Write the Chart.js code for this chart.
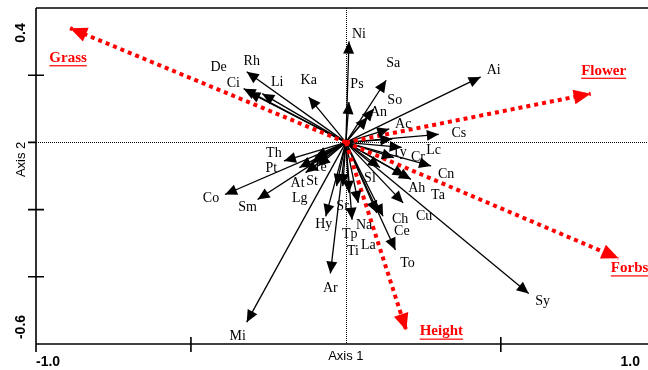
<!DOCTYPE html>
<html>
<head>
<meta charset="utf-8">
<script src="https://cdn.jsdelivr.net/npm/chart.js@4/dist/chart.umd.min.js"></script>
<style>
  html, body { margin: 0; padding: 0; background: #fff; overflow: hidden; }
  #wrap { width: 648px; height: 370px; position: relative; }
</style>
</head>
<body>
<div id="wrap"><canvas id="biplot"></canvas></div>
<script>
// Species scores (Axis 1, Axis 2)
const species = ['Ni','Ps','Sa','So','An','Ac','Ai','Cs','Ty','Lc','Cr','Cn','Ah','Ta','Sl',
                 'Cu','Ch','Ce','To','Sy','Na','La','Tp','Ti','Sr','Hy','Ar','Mi','Co','Sm',
                 'Lg','At','St','Te','Pt','Th','Rh','De','Ci','Li','Ka'];
const speciesAxis1 = [0.01, 0.01, 0.13, 0.09, 0.07, 0.14, 0.435, 0.30, 0.15, 0.18, 0.155, 0.275, 0.19, 0.21, 0.11,
                      0.185, 0.12, 0.10, 0.16, 0.59, 0.02, 0.04, -0.01, 0.01, -0.03, -0.065, -0.05, -0.32, -0.39, -0.285,
                      -0.11, -0.13, -0.09, -0.10, -0.15, -0.20, -0.32, -0.33, -0.315, -0.27, -0.12];
const speciesAxis2 = [0.30, 0.12, 0.185, 0.10, 0.075, 0.04, 0.195, 0.024, 0.01, -0.015, -0.045, -0.07, -0.10, -0.11, -0.075,
                      -0.18, -0.22, -0.21, -0.32, -0.45, -0.23, -0.18, -0.13, -0.15, -0.13, -0.22, -0.39, -0.535, -0.155, -0.17,
                      -0.06, -0.09, -0.07, -0.045, -0.075, -0.055, 0.21, 0.16, 0.15, 0.145, 0.135];

// Trait vectors
const traits = ['Grass', 'Flower', 'Forbs', 'Height'];
const traitAxis1 = [-0.89, 0.79, 0.88, 0.195];
const traitAxis2 = [0.34, 0.145, -0.345, -0.56];

// Axis ticks and labels
const xTickValues = [-1.0, -0.5, 0.5];
const yTickValues = [0.2, -0.2, -0.4];
const xEndLabels = ['-1.0', '1.0'];
const yEndLabels = ['0.4', '-0.6'];
const xTitle = 'Axis 1';
const yTitle = 'Axis 2';

// Label placement (pixel offsets from arrow tips)
const speciesLabelOffset = {
  Ni:[10,-7], Ps:[8,-18], Sa:[7,-17], So:[21,-8], An:[11,-5], Ac:[14,-5], Ai:[13,-7], Cs:[20,-1],
  Ty:[7,13], Lc:[32,3], Cr:[24,0], Cn:[15,8], Ah:[12,12], Ta:[27,16], Sl:[-10,11], Cu:[21,13],
  Ch:[17,3], Ce:[25,18], To:[12,13], Sy:[14,8], Na:[12,6], La:[10,42], Tp:[7,48], Ti:[4,59],
  Sr:[6,20], Hy:[-2,8], Ar:[0,15], Mi:[-9,14], Co:[-14,4], Sm:[-10,8], Lg:[-12,36], At:[-8,11],
  St:[-6,15], Te:[5,10], Pt:[-28,1], Th:[-10,-8], Rh:[5,-11], De:[-25,-21], Ci:[-15,-9], Li:[15,-11], Ka:[0,-17]
};
const traitLabelOffset = { Grass:[-2,30], Flower:[13,-23], Forbs:[11,10], Height:[35,1] };

const RED = '#ff0000';

const datasets = [];
traits.forEach((name, i) => {
  datasets.push({
    label: name, kind: 'trait',
    data: [{x: 0, y: 0}, {x: traitAxis1[i], y: traitAxis2[i]}],
    showLine: true, borderColor: RED, borderWidth: 4, borderDash: [4, 4],
    borderCapStyle: 'butt', pointRadius: 0, order: 1
  });
});
species.forEach((name, i) => {
  datasets.push({
    label: name, kind: 'species',
    data: [{x: 0, y: 0}, {x: speciesAxis1[i], y: speciesAxis2[i]}],
    showLine: true, borderColor: '#000', borderWidth: 1.3,
    pointRadius: 0, order: 2
  });
});

function arrowHead(ctx, x0, y0, x1, y1, len, half, color) {
  const a = Math.atan2(y1 - y0, x1 - x0);
  const c = Math.cos(a), s = Math.sin(a);
  const bx = x1 - len * c, by = y1 - len * s;
  ctx.beginPath();
  ctx.moveTo(x1, y1);
  ctx.lineTo(bx - half * s, by + half * c);
  ctx.lineTo(bx + half * s, by - half * c);
  ctx.closePath();
  ctx.fillStyle = color;
  ctx.fill();
}

const biplotPlugin = {
  id: 'biplot',
  beforeDatasetsDraw(chart) {
    const {ctx, chartArea: ca, scales: {x, y}} = chart;
    const x0 = x.getPixelForValue(0), y0 = y.getPixelForValue(0);
    ctx.save();
    ctx.strokeStyle = '#000';
    ctx.lineWidth = 1;
    ctx.setLineDash([1, 1]);
    ctx.beginPath();
    ctx.moveTo(ca.left, Math.round(y0) + 0.5);
    ctx.lineTo(ca.right, Math.round(y0) + 0.5);
    ctx.moveTo(Math.round(x0) + 0.5, ca.top);
    ctx.lineTo(Math.round(x0) + 0.5, ca.bottom);
    ctx.stroke();
    ctx.restore();
  },
  afterDatasetsDraw(chart) {
    const {ctx} = chart;
    ctx.save();
    // arrowheads: species first, trait vectors on top
    ['species', 'trait'].forEach(kind => {
      chart.data.datasets.forEach((ds, i) => {
        if (ds.kind !== kind) return;
        const pts = chart.getDatasetMeta(i).data;
        const p0 = pts[0], p1 = pts[1];
        if (kind === 'species') arrowHead(ctx, p0.x, p0.y, p1.x, p1.y, 12, 5.5, '#000');
        else arrowHead(ctx, p0.x, p0.y, p1.x, p1.y, 17, 7.5, RED);
      });
    });
    // labels
    ctx.textAlign = 'center';
    ctx.textBaseline = 'middle';
    chart.data.datasets.forEach((ds, i) => {
      const p1 = chart.getDatasetMeta(i).data[1];
      if (ds.kind === 'species') {
        const o = speciesLabelOffset[ds.label];
        ctx.font = '14px "Liberation Serif", "Times New Roman", serif';
        ctx.fillStyle = '#000';
        ctx.fillText(ds.label, p1.x + o[0], p1.y + o[1]);
      } else {
        const o = traitLabelOffset[ds.label];
        ctx.font = 'bold 15px "Liberation Serif", "Times New Roman", serif';
        ctx.fillStyle = RED;
        const tx = p1.x + o[0], ty = p1.y + o[1];
        ctx.fillText(ds.label, tx, ty);
        const w = ctx.measureText(ds.label).width;
        ctx.fillRect(tx - w / 2, ty + 7, w, 1.2);
      }
    });
    ctx.restore();
  },
  afterDraw(chart) {
    const {ctx, chartArea: ca, scales: {x, y}} = chart;
    ctx.save();
    ctx.strokeStyle = '#000';
    ctx.lineWidth = 1.6;
    ctx.beginPath();
    // frame: top border, left and bottom axes
    ctx.moveTo(ca.left, ca.top);
    ctx.lineTo(chart.width, ca.top);
    ctx.moveTo(ca.left, ca.top);
    ctx.lineTo(ca.left, ca.bottom + 8);
    ctx.moveTo(ca.left, ca.bottom);
    ctx.lineTo(chart.width, ca.bottom);
    // ticks crossing the axes
    yTickValues.forEach(v => {
      const py = y.getPixelForValue(v);
      ctx.moveTo(ca.left - 8, py);
      ctx.lineTo(ca.left + 8, py);
    });
    ctx.moveTo(ca.left - 8, y.getPixelForValue(0));
    ctx.lineTo(ca.left, y.getPixelForValue(0));
    xTickValues.forEach(v => {
      const px = x.getPixelForValue(v);
      ctx.moveTo(px, ca.bottom - 7);
      ctx.lineTo(px, ca.bottom + 8);
    });
    ctx.stroke();

    // axis end labels and titles
    ctx.fillStyle = '#000';
    ctx.textBaseline = 'middle';
    ctx.font = 'bold 14px "Liberation Sans", Arial, sans-serif';
    ctx.textAlign = 'left';
    ctx.fillText(xEndLabels[0], ca.left, 362);
    ctx.textAlign = 'right';
    ctx.fillText(xEndLabels[1], chart.width - 8, 362);
    ctx.textAlign = 'center';
    ctx.font = '13px "Liberation Sans", Arial, sans-serif';
    ctx.fillText(xTitle, x.getPixelForValue(0), 356);

    const ly = 21;
    [[yEndLabels[0], ca.top + 25, 'bold 14px'], [yEndLabels[1], ca.bottom - 17, 'bold 14px'],
     [yTitle, y.getPixelForValue(0) + 17, '13px']].forEach(([t, py, f]) => {
      ctx.save();
      ctx.translate(ly, py);
      ctx.rotate(-Math.PI / 2);
      ctx.font = f + ' "Liberation Sans", Arial, sans-serif';
      ctx.textAlign = 'center';
      ctx.fillText(t, 0, 0);
      ctx.restore();
    });
    ctx.restore();
  }
};

new Chart(document.getElementById('biplot'), {
  type: 'scatter',
  data: { datasets },
  options: {
    responsive: true,
    maintainAspectRatio: false,
    animation: false,
    events: [],
    layout: { padding: { left: 36, top: 8, right: 0, bottom: 26 } },
    plugins: { legend: { display: false }, tooltip: { enabled: false } },
    scales: {
      x: { type: 'linear', display: false, min: -1.0, max: 0.975 },
      y: { type: 'linear', display: false, min: -0.6, max: 0.4 }
    }
  },
  plugins: [biplotPlugin]
});
</script>
</body>
</html>
